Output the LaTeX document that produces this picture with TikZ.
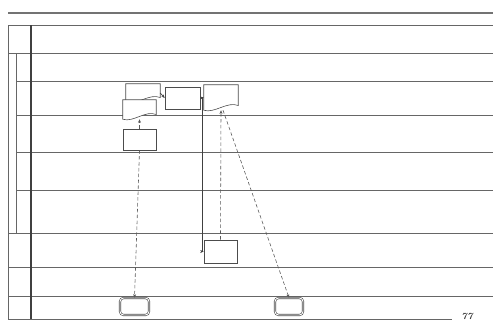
\documentclass[tikz,border=0pt]{standalone}
\usetikzlibrary{arrows.meta}

\tikzset{
  lane/.style={black!60, line width=0.6pt},
  boxline/.style={draw=black!70, line width=0.5pt},
  flow/.style={black!75, line width=0.6pt, -{Stealth[length=3pt,width=2.5pt]}},
  assoc/.style={black!65, line width=0.5pt, densely dashed, -{Stealth[length=3pt,width=2.5pt]}},
}

% outline of a document shape round a named node
\newcommand{\docoutline}[1]{%
  \draw[boxline, fill=white] ([yshift=0pt]#1.south west) -- (#1.north west) -- (#1.north east)
    -- ([yshift=4pt]#1.south east)
    .. controls ([xshift=-9pt,yshift=8pt]#1.south east) and ([xshift=9pt,yshift=-3pt]#1.south west)
    .. (#1.south west) -- cycle;}

\begin{document}
\begin{tikzpicture}[x=0.03cm, y=-0.03cm]
    \useasboundingbox (0,0) rectangle (493,322);

    % page rule and lane grid
    \draw[black!55, line width=1.6pt] (8,13) -- (493,13);
    \draw[lane] (8,25) -- (493,25);
    \foreach \y/\x in {53/8, 81/16, 115/16, 152/16, 190/16, 233/8, 267/8, 296/8}
        \draw[lane] (\x,\y) -- (493,\y);
    \draw[lane] (8,319) -- (452,319);
    \draw[lane] (8,25) -- (8,319);
    \draw[lane] (16,53) -- (16,233);
    \draw[black!75, line width=1pt] (31,25) -- (31,319);

    % activities
    \node[minimum width=1.02cm, minimum height=0.54cm] (prep) at (143,93) {};
    \node[minimum width=0.99cm, minimum height=0.57cm] (form) at (139.5,109.5) {};
    \node[boxline, fill=white, minimum width=1.05cm, minimum height=0.66cm] (check) at (182.5,98) {};
    \node[minimum width=1.02cm, minimum height=0.75cm] (report) at (221,97.5) {};
    \node[boxline, fill=white, minimum width=0.99cm, minimum height=0.63cm] (record) at (139.5,139.5) {};
    \node[boxline, fill=white, minimum width=0.99cm, minimum height=0.69cm] (approve) at (220.5,251.5) {};
    \node[boxline, fill=white, rounded corners=3pt, double=white, double distance=0.8pt,
          minimum width=0.87cm, minimum height=0.51cm] (fileA) at (134.5,306.5) {};
    \node[boxline, fill=white, rounded corners=3pt, double=white, double distance=0.8pt,
          minimum width=0.84cm, minimum height=0.51cm] (fileB) at (289,306.5) {};
    \docoutline{prep}
    \docoutline{form}
    \docoutline{report}

    % connectors
    \draw[flow] (prep.east) -- (check.west);
    \draw[flow] (check.east) -- (report.west);
    \draw[flow] ([xshift=0.06cm]check.east) |- (approve.west);
    \draw[assoc] (record.north) -- (form.south);
    \draw[assoc] (approve.north) -- (report.south);
    \draw[assoc] ([xshift=0.06cm]report.south) -- (fileB.north);
    \draw[assoc] (record.south) -- (fileA.north);

    \node[font=\footnotesize\bfseries\itshape, black!80] (page) at (467,316) {77};
\end{tikzpicture}
\end{document}
